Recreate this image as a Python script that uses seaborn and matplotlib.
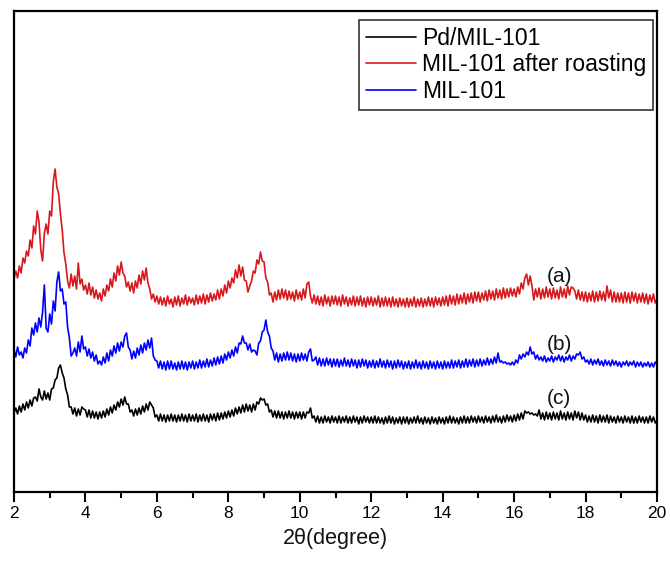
import numpy as np
import pandas as pd
import matplotlib
matplotlib.use("Agg")
import matplotlib.pyplot as plt
import seaborn as sns
from matplotlib.ticker import MultipleLocator

# 2-theta grid (degrees), 0.05 step from 2 to 20
two_theta = np.round(np.arange(2.0, 20.0001, 0.05), 2)

# Intensities (arbitrary units, offset per pattern), one row per degree
roasted = [
    213, 221, 214, 226, 219, 234, 229, 241, 236, 252, 244, 266, 258, 281, 270, 242, 231, 259, 268, 258,
    281, 276, 310, 323, 305, 298, 278, 262, 239, 228, 211, 204, 218, 206, 216, 203, 229, 208, 213, 202,
    207, 198, 209, 197, 205, 194, 202, 193, 199, 191, 203, 196, 207, 201, 213, 205, 219, 211, 226, 217,
    230, 219, 216, 205, 210, 201, 209, 199, 211, 204, 217, 208, 221, 212, 224, 209, 203, 193, 198, 190,
    196, 188, 195, 187, 194, 186, 196, 188, 193, 185, 195, 187, 196, 186, 194, 188, 197, 187, 195, 189,
    194, 187, 197, 188, 196, 189, 198, 188, 197, 190, 199, 191, 198, 192, 202, 193, 203, 196, 207, 199,
    211, 204, 214, 209, 222, 214, 227, 216, 225, 212, 211, 200, 206, 211, 221, 219, 232, 228, 240, 231,
    230, 214, 210, 197, 199, 190, 200, 192, 202, 193, 203, 194, 202, 192, 201, 193, 200, 191, 202, 193,
    200, 192, 203, 194, 208, 210, 196, 189, 197, 188, 196, 187, 195, 186, 197, 188, 195, 186, 196, 188,
    196, 187, 195, 186, 197, 188, 195, 186, 194, 187, 196, 186, 195, 187, 196, 186, 194, 185, 195, 187,
    195, 186, 194, 187, 196, 185, 194, 186, 195, 186, 194, 185, 195, 186, 193, 185, 194, 186, 193, 185,
    194, 185, 193, 186, 195, 185, 193, 186, 194, 185, 193, 186, 195, 186, 194, 185, 195, 187, 194, 186,
    195, 187, 196, 186, 197, 188, 196, 187, 198, 188, 197, 189, 199, 188, 198, 190, 199, 189, 200, 191,
    200, 190, 199, 192, 201, 191, 202, 193, 201, 192, 203, 194, 202, 193, 204, 194, 203, 195, 204, 196,
    203, 195, 205, 198, 209, 203, 214, 218, 207, 216, 206, 192, 203, 195, 204, 193, 203, 194, 205, 195,
    203, 193, 204, 194, 202, 193, 205, 195, 203, 194, 206, 197, 205, 204, 201, 193, 202, 192, 200, 191,
    200, 190, 199, 191, 201, 190, 200, 191, 201, 192, 200, 191, 206, 194, 202, 190, 200, 190, 199, 190,
    199, 189, 200, 190, 199, 189, 200, 191, 199, 189, 198, 190, 199, 189, 198, 188, 197, 190, 198, 189,
    193,
]

mil101 = [
    143, 135, 145, 137, 140, 134, 144, 139, 152, 146, 164, 157, 169, 160, 174, 165, 180, 207, 164, 160,
    178, 168, 191, 181, 210, 220, 201, 203, 188, 190, 165, 154, 136, 139, 144, 136, 150, 140, 156, 143,
    145, 136, 143, 134, 140, 131, 137, 128, 131, 127, 135, 129, 139, 131, 142, 136, 146, 139, 149, 141,
    150, 145, 156, 159, 145, 142, 133, 141, 134, 144, 137, 147, 139, 149, 142, 152, 144, 154, 136, 132,
    131, 124, 131, 123, 130, 122, 131, 123, 131, 123, 129, 122, 130, 123, 131, 123, 130, 122, 130, 124,
    131, 123, 130, 124, 132, 124, 131, 125, 133, 125, 132, 126, 134, 127, 135, 128, 136, 129, 138, 132,
    140, 134, 142, 136, 145, 139, 149, 148, 156, 149, 149, 142, 148, 140, 142, 141, 137, 149, 151, 160,
    162, 172, 160, 156, 144, 141, 132, 139, 130, 138, 131, 139, 132, 140, 132, 139, 131, 138, 130, 138,
    131, 139, 132, 138, 131, 140, 143, 131, 132, 135, 127, 134, 126, 133, 126, 134, 127, 133, 125, 133,
    126, 133, 125, 132, 126, 134, 126, 132, 125, 133, 126, 132, 124, 132, 125, 133, 126, 132, 124, 131,
    125, 132, 124, 131, 125, 133, 125, 131, 124, 132, 125, 131, 123, 131, 124, 132, 125, 131, 123, 130,
    124, 131, 123, 130, 124, 132, 124, 130, 123, 131, 124, 130, 123, 131, 124, 130, 123, 131, 124, 130,
    123, 131, 124, 130, 124, 132, 124, 131, 125, 132, 124, 131, 125, 133, 125, 132, 126, 133, 125, 132,
    126, 133, 126, 132, 127, 134, 127, 133, 128, 135, 129, 139, 130, 131, 129, 130, 128, 129, 127, 130,
    127, 132, 129, 137, 133, 138, 135, 140, 137, 145, 138, 140, 133, 137, 132, 135, 131, 136, 130, 134,
    131, 136, 130, 135, 132, 137, 131, 136, 130, 135, 132, 137, 131, 136, 133, 138, 137, 140, 133, 135,
    130, 132, 128, 133, 127, 132, 128, 133, 127, 131, 126, 132, 127, 131, 126, 132, 127, 131, 126, 130,
    125, 130, 127, 131, 126, 130, 127, 131, 125, 130, 126, 130, 125, 129, 126, 130, 125, 129, 125, 130,
    127,
]

pd_mil101 = [
    79, 84, 78, 86, 80, 88, 82, 90, 84, 92, 86, 94, 95, 91, 103, 95, 92, 101, 93, 99,
    92, 103, 104, 112, 114, 124, 127, 119, 114, 103, 97, 85, 85, 78, 84, 76, 83, 77, 85, 83,
    82, 75, 82, 74, 81, 74, 80, 73, 80, 74, 81, 75, 83, 77, 85, 79, 87, 82, 90, 85,
    93, 87, 95, 88, 88, 80, 82, 76, 83, 77, 84, 78, 86, 80, 88, 82, 90, 87, 84, 75,
    77, 71, 78, 71, 77, 70, 77, 71, 78, 71, 77, 70, 77, 71, 78, 71, 77, 70, 78, 71,
    77, 71, 78, 70, 77, 71, 78, 71, 77, 70, 78, 72, 78, 71, 79, 72, 79, 73, 80, 74,
    81, 75, 82, 76, 84, 78, 85, 79, 87, 80, 88, 81, 87, 80, 88, 82, 90, 88, 94, 92,
    93, 87, 88, 80, 82, 75, 81, 74, 81, 74, 80, 73, 80, 74, 81, 74, 80, 73, 80, 74,
    80, 73, 80, 74, 80, 79, 84, 74, 76, 70, 76, 69, 75, 69, 76, 70, 75, 69, 76, 70,
    75, 69, 76, 69, 75, 70, 76, 69, 75, 69, 76, 70, 75, 68, 75, 69, 76, 70, 75, 69,
    75, 69, 76, 69, 75, 69, 74, 68, 75, 69, 76, 69, 75, 68, 74, 69, 75, 68, 75, 69,
    75, 68, 74, 69, 75, 69, 76, 69, 74, 68, 75, 69, 74, 68, 75, 69, 74, 68, 75, 69,
    74, 68, 75, 69, 76, 69, 75, 69, 74, 68, 75, 69, 76, 69, 75, 69, 76, 70, 75, 69,
    76, 70, 75, 69, 76, 70, 75, 69, 76, 70, 77, 70, 75, 69, 76, 70, 77, 71, 76, 70,
    77, 71, 78, 72, 79, 73, 81, 79, 80, 78, 79, 77, 78, 76, 82, 73, 79, 72, 80, 73,
    79, 72, 80, 73, 79, 72, 81, 73, 79, 72, 80, 73, 79, 72, 81, 74, 80, 72, 79, 72,
    77, 70, 76, 70, 77, 70, 76, 69, 77, 70, 76, 70, 77, 69, 76, 70, 75, 69, 76, 70,
    75, 69, 76, 70, 75, 69, 76, 69, 75, 69, 76, 70, 75, 69, 75, 69, 76, 70, 75, 69,
    72,
]

series_names = ["Pd/MIL-101", "MIL-101 after roasting", "MIL-101"]
series_colors = ["#000000", "#d7191c", "#0000ff"]
curve_tags = ["(a)", "(b)", "(c)"]
tag_x = 17.26
tag_y = [216, 148, 93]

x_ticks = [2, 4, 6, 8, 10, 12, 14, 16, 18, 20]

sns.set_theme(style="white")
plt.rcParams["font.family"] = ["Liberation Sans", "DejaVu Sans"]
plt.rcParams["text.color"] = "black"
plt.rcParams["xtick.color"] = "black"

df = pd.concat([
    pd.DataFrame({"two_theta": two_theta, "intensity": pd_mil101, "sample": series_names[0]}),
    pd.DataFrame({"two_theta": two_theta, "intensity": roasted, "sample": series_names[1]}),
    pd.DataFrame({"two_theta": two_theta, "intensity": mil101, "sample": series_names[2]}),
])

fig = plt.figure(figsize=(6.70, 5.63), dpi=100)
ax = fig.add_axes([14 / 670, 1 - 492 / 563, 643 / 670, 481 / 563])

sns.lineplot(data=df, x="two_theta", y="intensity", hue="sample",
             hue_order=series_names, palette=series_colors,
             estimator=None, sort=False, linewidth=1.2, ax=ax)

ax.set_xlim(2, 20)
ax.set_ylim(0, 481)
ax.set_xticks(x_ticks)
ax.set_xticklabels([str(t) for t in x_ticks])
ax.xaxis.set_minor_locator(MultipleLocator(1))
ax.set_yticks([])
ax.tick_params(axis="x", which="major", direction="out", length=7, width=1.5,
               labelsize=12.5, pad=3, bottom=True, colors="black")
ax.tick_params(axis="x", which="minor", direction="out", length=4, width=1.5, bottom=True)
ax.set_xlabel("2θ(degree)", fontsize=15.5, labelpad=5, color="#111111")
ax.set_ylabel("")

for s in ax.spines.values():
    s.set_visible(True)
    s.set_color("black")
    s.set_linewidth(1.6)

for tag, ty in zip(curve_tags, tag_y):
    ax.text(tag_x, ty, tag, ha="center", va="center", fontsize=15, color="#111111")

leg = ax.legend(loc="upper right", bbox_to_anchor=(0.9938, 0.9813), borderaxespad=0,
                fontsize=16.5, handlelength=2.2, handletextpad=0.25, labelspacing=0.15,
                borderpad=0.3, fancybox=False, frameon=True, title=None)
leg.get_frame().set_edgecolor("black")
leg.get_frame().set_linewidth(1.2)
for text in leg.get_texts():
    text.set_color("black")
for line in leg.get_lines():
    line.set_linewidth(1.2)

fig.savefig("out.png", dpi=100)
